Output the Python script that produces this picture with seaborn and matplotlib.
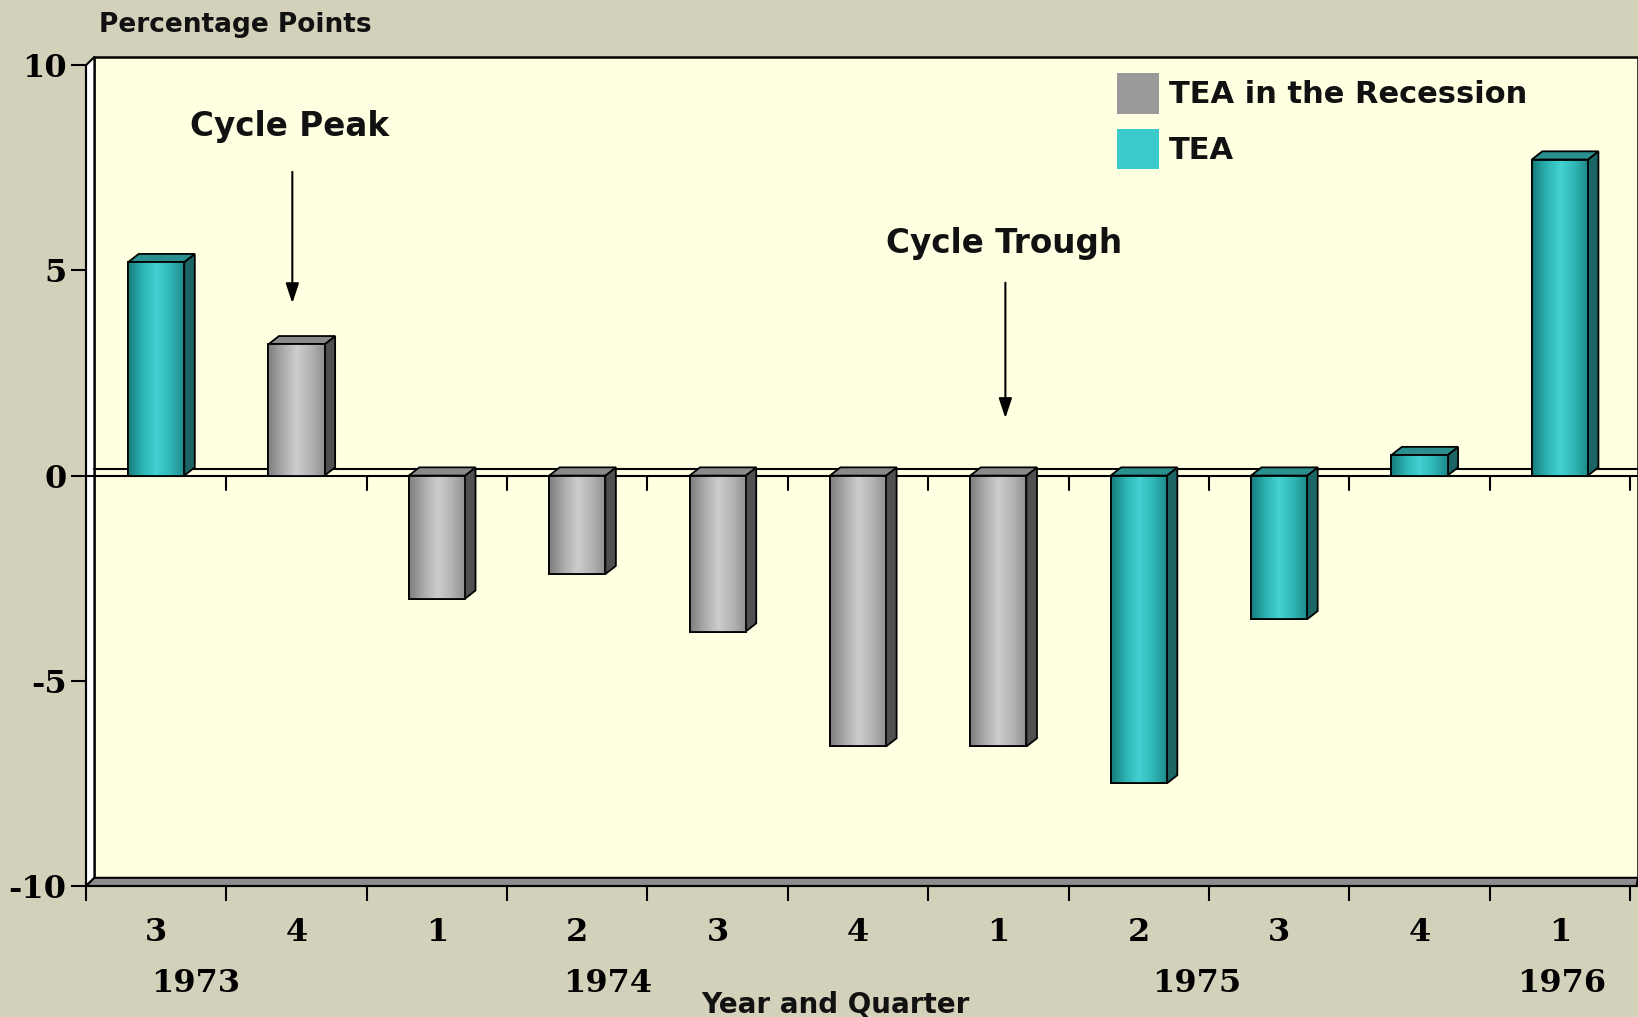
import numpy as np
import pandas as pd
import matplotlib
matplotlib.use("Agg")
import matplotlib.pyplot as plt
import matplotlib.transforms as mtransforms
import seaborn as sns
from matplotlib.patches import Polygon, Rectangle, Patch
from matplotlib.colors import LinearSegmentedColormap

# data
quarters = ["3", "4", "1", "2", "3", "4", "1", "2", "3", "4", "1"]
years = ["1973", "1973", "1974", "1974", "1974", "1974", "1975", "1975", "1975", "1975", "1976"]
tea_change = [5.2, 3.2, -3.0, -2.4, -3.8, -6.6, -6.6, -7.5, -3.5, 0.5, 7.7]
in_recession = [False, True, True, True, True, True, True, False, False, False, False]
series_names = ["TEA in the Recession", "TEA"]
year_labels = ["1973", "1974", "1975", "1976"]

# styling
FIG_BG = "#d4d1bb"
WALL = "#ffffe2"
colors = {"TEA in the Recession": "#999999", "TEA": "#3ccaca"}
front_grad = {
    "TEA in the Recession": ["#7d7d7d", "#a9a9a9", "#cdcdcd", "#b4b4b4", "#8e8e8e"],
    "TEA": ["#167a7b", "#2cb1b1", "#44d2d2", "#30b5b5", "#1d8889"],
}
side_col = {"TEA in the Recession": "#505050", "TEA": "#1b6565"}
top_col = {"TEA in the Recession": "#8a8a8a", "TEA": "#2a8f8f"}

df = pd.DataFrame({
    "period": [y + "Q" + q for y, q in zip(years, quarters)],
    "value": tea_change,
    "series": [series_names[0] if r else series_names[1] for r in in_recession],
})

sns.set_theme(style="white")
plt.rcParams["font.family"] = ["DejaVu Sans"]

fig = plt.figure(figsize=(16.38, 10.17), dpi=100, facecolor=FIG_BG)
ax = fig.add_axes([0.0525, 0.1288, 0.9475, 0.8152])
ax.set_facecolor(FIG_BG)

sns.barplot(data=df, x="period", y="value", hue="series", order=df["period"].tolist(),
            hue_order=series_names, palette=colors, dodge=False, width=0.4,
            saturation=1, edgecolor="black", linewidth=1.3, legend=False, ax=ax)

n = len(df)
xmin, xmax = -0.5, n - 0.5 + 0.057
DX, DY = 0.06, 0.2          # wall depth
BDX, BDY = 0.075, 0.2       # bar depth
ytop = 10 + DY

# back wall, left wall, floor
ax.add_patch(Rectangle((xmin + DX, -10 + DY), xmax - xmin - DX, ytop - (-10 + DY),
                       facecolor=WALL, edgecolor="black", lw=1.8, zorder=0.1, clip_on=False))
ax.add_patch(Polygon([(xmin, -10), (xmin, 10), (xmin + DX, ytop), (xmin + DX, -10 + DY)],
                     closed=True, facecolor="white", edgecolor="black", lw=1.5, zorder=0.2,
                     clip_on=False))
ax.add_patch(Polygon([(xmin, -10), (xmax - 0.01, -10), (xmax, -10 + DY), (xmin + DX, -10 + DY)],
                     closed=True, facecolor="#8d8d8d", edgecolor="black", lw=1.5, zorder=0.3,
                     clip_on=False))

# zero plane
ax.plot([xmin + DX, xmax], [DY * 0.8, DY * 0.8], color="black", lw=1.5, zorder=0.5)
ax.plot([xmin, xmax - 0.01], [0, 0], color="black", lw=1.5, zorder=0.6)
for b in np.arange(0.5, n, 1.0):
    ax.plot([b, b], [0, -0.35], color="black", lw=1.5, zorder=0.6)

# 3D faces and shading for the bars seaborn drew
bars = [p for p in ax.patches if isinstance(p, Rectangle) and p.get_zorder() > 0.5
        and np.isfinite(p.get_height()) and abs(p.get_height()) > 0 and p.get_width() < 1]
for bar in bars:
    x0, w = bar.get_x(), bar.get_width()
    y0, y1 = sorted([bar.get_y(), bar.get_y() + bar.get_height()])
    x1 = x0 + w
    idx = int(round(x0 + w / 2))
    s = df["series"].iloc[idx]
    bar.set_zorder(3)
    ax.add_patch(Polygon([(x1, y0), (x1 + BDX, y0 + BDY), (x1 + BDX, y1 + BDY), (x1, y1)],
                         closed=True, facecolor=side_col[s], edgecolor="black", lw=1.3, zorder=2.9))
    ax.add_patch(Polygon([(x0, y1), (x0 + BDX, y1 + BDY), (x1 + BDX, y1 + BDY), (x1, y1)],
                         closed=True, facecolor=top_col[s], edgecolor="black", lw=1.3, zorder=2.9))
    cmap = LinearSegmentedColormap.from_list("g", front_grad[s])
    im = ax.imshow(np.linspace(0, 1, 256)[None, :], extent=(x0, x1, y0, y1), origin="lower",
                   aspect="auto", cmap=cmap, interpolation="bilinear", zorder=3.1)
    im.set_clip_path(bar)
    ax.add_patch(Rectangle((x0, y0), w, y1 - y0, facecolor="none", edgecolor="black",
                           lw=1.3, zorder=3.2))

ax.set_xlim(xmin, xmax)
ax.set_ylim(-10, ytop)

# axes, ticks
for side in ["top", "right"]:
    ax.spines[side].set_visible(False)
ax.spines["left"].set_bounds(-10, 10)
ax.spines["bottom"].set_bounds(xmin, xmax)
for side in ["left", "bottom"]:
    ax.spines[side].set_color("black")
    ax.spines[side].set_linewidth(1.5)

tick_font = dict(family="DejaVu Serif", weight="bold", size=23)
ax.set_yticks([-10, -5, 0, 5, 10])
ax.set_yticklabels(["-10", "-5", "0", "5", "10"], fontdict=tick_font)
ax.tick_params(axis="y", direction="out", length=11, width=1.5, pad=3, colors="black",
               left=True)
ax.set_xticks(range(n))
ax.set_xticklabels(quarters, fontdict=tick_font)
ax.set_xticks(np.arange(-0.5, n, 1.0), minor=True)
ax.tick_params(axis="x", which="major", length=0, pad=22, colors="black")
ax.tick_params(axis="x", which="minor", direction="out", length=11, width=1.5, colors="black",
               bottom=True)
ax.set_xlabel("")
ax.set_ylabel("")

# year labels
year_pos = [0.28, 3.22, 7.41, 10.01]
trans = mtransforms.blended_transform_factory(ax.transData, fig.transFigure)
for yl, xp in zip(year_labels, year_pos):
    ax.text(xp, 0.033, yl, transform=trans, ha="center", va="center", color="black",
            **tick_font)

fig.text(0.51, 0.012, "Year and Quarter", ha="center", va="center",
         weight="bold", size=20, color="#111")
fig.text(0.0604, 0.975, "Percentage Points", ha="left", va="center", weight="bold",
         size=19, color="#111")

# annotations
arrow = dict(arrowstyle="-|>,head_width=0.2,head_length=0.6", color="black",
             lw=1.5, mutation_scale=20, shrinkA=0, shrinkB=0)
ax.text(0.95, 8.5, "Cycle Peak", ha="center", va="center", weight="bold", size=23.5,
        color="#111")
ax.annotate("", xy=(0.97, 4.2), xytext=(0.97, 7.4), arrowprops=arrow)
ax.text(6.04, 5.65, "Cycle Trough", ha="center", va="center", weight="bold", size=23.5,
        color="#111")
ax.annotate("", xy=(6.05, 1.4), xytext=(6.05, 4.7), arrowprops=arrow)

# legend
handles = [Patch(facecolor=colors[s], edgecolor="none", label=s) for s in series_names]
leg = ax.legend(handles=handles, loc="upper left", bbox_to_anchor=(0.682, 0.928),
                bbox_transform=fig.transFigure, frameon=False, borderpad=0, borderaxespad=0,
                handlelength=1.37, handleheight=1.66, handletextpad=0.33, labelspacing=0.5,
                prop=dict(weight="bold", size=22))
for t in leg.get_texts():
    t.set_color("#111")

fig.savefig("out.png", dpi=100, facecolor=FIG_BG)
